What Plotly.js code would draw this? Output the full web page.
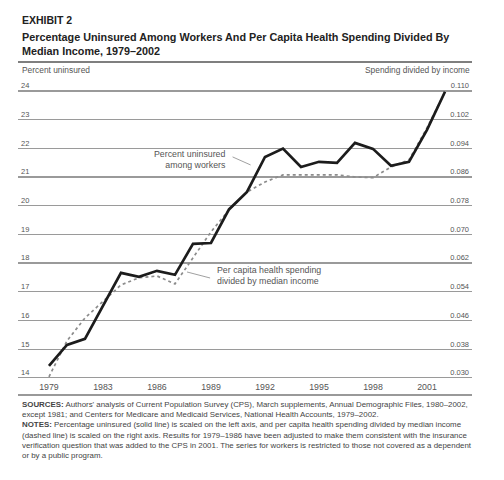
<!DOCTYPE html>
<html>
<head>
<meta charset="utf-8">
<script src="https://cdn.plot.ly/plotly-3.0.1.min.js"></script>
<style>
  html, body { margin: 0; padding: 0; background: #fff; }
  #plot { width: 504px; height: 480px; }
</style>
</head>
<body>
<div id="plot"></div>
<script>
const years = [1980, 1981, 1982, 1983, 1984, 1985, 1986, 1987, 1988, 1989, 1990, 1991,
    1992, 1993, 1994, 1995, 1996, 1997, 1998, 1999, 2000, 2001, 2002]
const uninsured = [14.42, 15.15, 15.36, 16.51, 17.66, 17.52, 17.73, 17.59, 18.67, 18.70, 19.87, 20.48,
    21.70, 21.99, 21.35, 21.53, 21.49, 22.19, 21.98, 21.39, 21.53, 22.64, 23.97]
const spendingRatio = [0.0303, 0.0403, 0.0467, 0.0512, 0.0559, 0.0579, 0.0584, 0.0562, 0.0634, 0.0707, 0.0768, 0.0818,
    0.0846, 0.0866, 0.0866, 0.0866, 0.0866, 0.0860, 0.0858, 0.0888, 0.0908, 0.0997, 0.1097]

const xTickVals = [1980, 1983, 1986, 1989, 1992, 1995, 1998, 2001]
const xTickText = ['1979', '1983', '1986', '1989', '1992', '1995', '1998', '2001']
const leftTicks = [14, 15, 16, 17, 18, 19, 20, 21, 22, 23, 24]
const rightTicks = [0.030, 0.038, 0.046, 0.054, 0.062, 0.070, 0.078, 0.086, 0.094, 0.102, 0.110]

const FONT = '"Liberation Sans", Arial, sans-serif'

const footer = [
    '<b>SOURCES:</b> Authors\' analysis of Current Population Survey (CPS), March supplements, Annual Demographic Files, 1980–2002,',
    'except 1981; and Centers for Medicare and Medicaid Services, National Health Accounts, 1979–2002.',
    '<b>NOTES:</b> Percentage uninsured (solid line) is scaled on the left axis, and per capita health spending divided by median income',
    '(dashed line) is scaled on the right axis. Results for 1979–1986 have been adjusted to make them consistent with the insurance',
    'verification question that was added to the CPS in 2001. The series for workers is restricted to those not covered as a dependent',
    'or by a public program.'
]

function paperText(text, x, y, size, color, opts) {
    return Object.assign({
        xref: 'paper', yref: 'paper', x: x, y: y,
        xanchor: 'left', yanchor: 'middle', showarrow: false,
        text: text, font: { family: FONT, size: size, color: color }
    }, opts || {})
}

const spendingTrace = {
    x: years,
    y: spendingRatio,
    yaxis: 'y',
    type: 'scatter',
    mode: 'lines',
    line: { color: '#8c8c8c', width: 1.7, dash: 'dot' },
    hoverinfo: 'skip'
}

const uninsuredTrace = {
    x: years,
    y: uninsured,
    yaxis: 'y2',
    type: 'scatter',
    mode: 'lines',
    line: { color: '#1c1c1c', width: 2.7 },
    hoverinfo: 'skip'
}

let annotations = [
    paperText('<b>EXHIBIT 2</b>', 0.004, 1.192, 10.5, '#222'),
    paperText('<b>Percentage Uninsured Among Workers And Per Capita Health Spending Divided By</b>', 0.004, 1.136, 10.8, '#222'),
    paperText('<b>Median Income, 1979–2002</b>', 0.004, 1.089, 10.8, '#222'),
    paperText('Percent uninsured', 0.004, 1.026, 8.4, '#555'),
    paperText('Spending divided by income', 1, 1.026, 8.4, '#555', { xanchor: 'right' }),
    {
        xref: 'x', yref: 'y2', x: 1989.94, y: 21.6, xanchor: 'right', yanchor: 'middle', align: 'right',
        showarrow: false, text: 'Percent uninsured<br>among workers',
        font: { family: FONT, size: 8.8, color: '#555' }
    },
    {
        xref: 'x', yref: 'y2', x: 1989.2, y: 17.55, xanchor: 'left', yanchor: 'middle', align: 'left',
        showarrow: false, text: 'Per capita health spending<br>divided by median income',
        font: { family: FONT, size: 8.8, color: '#555' }
    }
]
footer.forEach((line, i) => {
    annotations.push(paperText(line, 0.004, -0.0795 - i * 0.0344, 7.9, '#444'))
})

const layout = {
    width: 504,
    height: 480,
    margin: { l: 18, r: 32, t: 78, b: 100 },
    paper_bgcolor: '#fff',
    plot_bgcolor: '#fff',
    showlegend: false,
    xaxis: {
        range: [1978.28, 2003.5],
        showgrid: false, zeroline: false, showline: false,
        tickvals: xTickVals, ticktext: xTickText, ticks: '',
        tickfont: { family: FONT, size: 8.8, color: '#555' }
    },
    yaxis: {
        side: 'right',
        range: [0.0294, 0.1136],
        tickvals: rightTicks,
        tickformat: '.3f',
        ticklabelposition: 'inside top',
        ticks: '',
        showgrid: true, gridcolor: '#9a9a9a', gridwidth: 1.2,
        zeroline: false, showline: false,
        tickfont: { family: FONT, size: 7.5, color: '#555' }
    },
    yaxis2: {
        overlaying: 'y',
        side: 'left',
        range: [13.925, 24.45],
        tickvals: leftTicks,
        ticklabelposition: 'inside top',
        ticks: '',
        showgrid: false, zeroline: false, showline: false,
        tickfont: { family: FONT, size: 7.5, color: '#555' }
    },
    shapes: [
        { type: 'line', xref: 'paper', yref: 'paper', x0: 0, x1: 1, y0: 1.053, y1: 1.053,
          line: { color: '#555', width: 1.3 } },
        { type: 'line', xref: 'paper', yref: 'paper', x0: 0, x1: 1, y0: -0.0497, y1: -0.0497,
          line: { color: '#777', width: 1.3 } },
        { type: 'line', xref: 'x', yref: 'y2', x0: 1990.2, y0: 21.70, x1: 1991.2, y1: 21.42,
          line: { color: '#888', width: 0.8 } },
        { type: 'line', xref: 'x', yref: 'y2', x0: 1987.67, y0: 17.69, x1: 1988.95, y1: 17.48,
          line: { color: '#888', width: 0.8 } }
    ],
    annotations: annotations
}

Plotly.newPlot('plot', [spendingTrace, uninsuredTrace], layout, { staticPlot: true })
</script>
</body>
</html>
